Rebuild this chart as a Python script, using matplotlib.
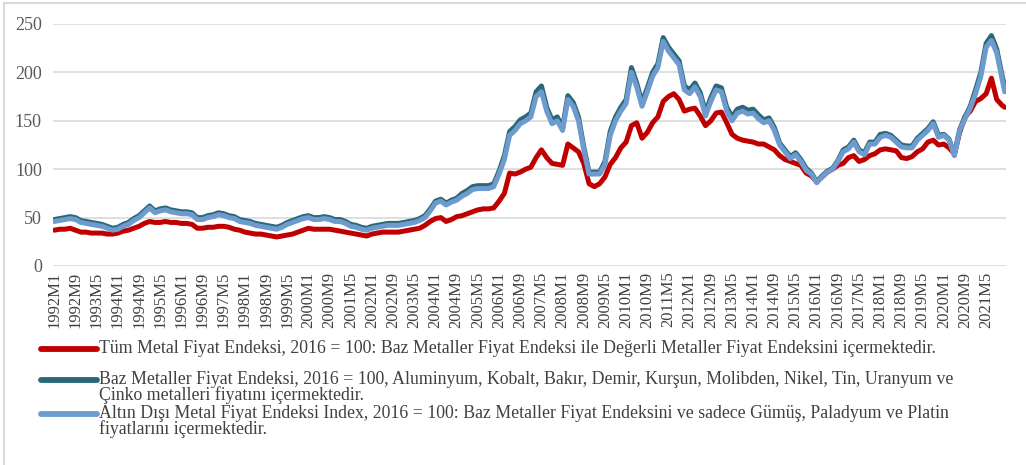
import numpy as np
import matplotlib
matplotlib.use("Agg")
import matplotlib.pyplot as plt
from matplotlib.lines import Line2D
from matplotlib.patches import Rectangle

# bi-monthly readings (M1, M3, M5, M7, M9, M11 of each year), 1992-2021, plus 2021M12
tum_metal = [
    37, 38, 38, 39, 37, 35,
    35, 34, 34, 34, 33, 33,
    34, 36, 37, 39, 41, 44,
    46, 45, 45, 46, 45, 45,
    44, 44, 43, 39, 39, 40,
    40, 41, 41, 40, 38, 37,
    35, 34, 33, 33, 32, 31,
    30, 31, 32, 33, 35, 37,
    39, 38, 38, 38, 38, 37,
    36, 35, 34, 33, 32, 31,
    33, 34, 35, 35, 35, 35,
    36, 37, 38, 39, 42, 46,
    49, 50, 46, 48, 51, 52,
    54, 56, 58, 59, 59, 60,
    67, 75, 96, 95, 97, 100,
    102, 112, 120, 112, 106, 105,
    104, 126, 122, 118, 106, 85,
    82, 85, 92, 105, 112, 122,
    128, 145, 148, 132, 138, 148,
    154, 170, 175, 178, 172, 160,
    162, 163, 155, 145, 150, 158,
    159, 148, 136, 132, 130, 129,
    128, 126, 126, 123, 120, 114,
    110, 108, 106, 104, 96, 93,
    87, 92, 97, 100, 104, 106,
    112, 114, 108, 110, 114, 116,
    120, 121, 120, 119, 112, 111,
    113, 118, 121, 128, 130, 125,
    126, 122, 116, 138, 154, 160,
    170, 173, 178, 194, 172, 166,
    164,
]

baz_metal = [
    48, 49, 50, 51, 50, 47,
    46, 45, 44, 43, 41, 39,
    40, 43, 45, 49, 52, 57,
    62, 57, 59, 60, 58, 57,
    56, 56, 55, 50, 50, 52,
    53, 55, 54, 52, 51, 48,
    47, 46, 44, 43, 42, 41,
    40, 42, 45, 47, 49, 51,
    52, 50, 50, 51, 50, 48,
    48, 46, 43, 42, 40, 39,
    41, 42, 43, 44, 44, 44,
    45, 46, 47, 49, 52, 59,
    67, 69, 65, 68, 70, 75,
    78, 82, 83, 83, 83, 85,
    98, 114, 139, 144, 151, 154,
    158, 180, 186, 164, 151, 154,
    143, 176, 169, 154, 123, 97,
    97, 97, 108, 139, 154, 164,
    172, 205, 189, 169, 184, 200,
    209, 236, 226, 219, 212, 186,
    182, 189, 179, 159, 174, 186,
    184, 164, 154, 162, 164, 161,
    162, 156, 151, 153, 143, 127,
    120, 113, 117, 110, 101, 96,
    87, 93, 98, 101, 109, 120,
    123, 130, 120, 117, 128, 128,
    136, 137, 135, 130, 125, 124,
    124, 132, 137, 142, 149, 135,
    136, 131, 115, 141, 154, 165,
    182, 200, 230, 238, 224, 197,
    185,
]

altin_disi = [
    46, 47, 48, 49, 48, 45,
    44, 43, 42, 41, 39, 37,
    38, 41, 43, 47, 50, 55,
    60, 55, 57, 58, 56, 55,
    54, 54, 53, 48, 48, 50,
    51, 53, 52, 50, 49, 46,
    45, 44, 42, 41, 40, 39,
    38, 40, 43, 45, 47, 49,
    50, 48, 48, 49, 48, 46,
    46, 44, 41, 40, 38, 37,
    39, 40, 41, 42, 42, 42,
    43, 44, 45, 47, 50, 57,
    65, 67, 63, 66, 68, 72,
    75, 79, 80, 80, 80, 82,
    95, 110, 135, 140, 147, 150,
    154, 175, 180, 160, 147, 150,
    140, 172, 165, 150, 120, 95,
    95, 95, 105, 135, 150, 160,
    168, 200, 185, 165, 180, 196,
    205, 232, 222, 215, 208, 182,
    178, 185, 175, 155, 170, 182,
    180, 160, 150, 158, 160, 157,
    158, 152, 148, 150, 140, 125,
    118, 111, 115, 108, 99, 95,
    86, 92, 97, 100, 108, 118,
    121, 128, 118, 115, 126, 126,
    133, 135, 133, 128, 123, 122,
    122, 130, 135, 140, 147, 133,
    135, 130, 114, 140, 152, 163,
    178, 196, 226, 233, 220, 193,
    180,
]

# month index of each reading (0 = 1992M1)
ay = list(range(0, 360, 2)) + [359]

etiketler = []
for i in range(0, 353, 8):
    etiketler.append("%dM%d" % (1992 + i // 12, i % 12 + 1))
etiket_yer = list(range(0, 353, 8))

leg_text = [
    "Tüm Metal Fiyat Endeksi, 2016 = 100: Baz Metaller Fiyat Endeksi ile Değerli Metaller Fiyat Endeksini içermektedir.",
    "Baz Metaller Fiyat Endeksi, 2016 = 100, Aluminyum, Kobalt, Bakır, Demir, Kurşun, Molibden, Nikel, Tin, Uranyum ve\nÇinko metalleri fiyatını içermektedir.",
    "Altın Dışı Metal Fiyat Endeksi Index, 2016 = 100: Baz Metaller Fiyat Endeksini ve sadece Gümüş, Paladyum ve Platin\nfiyatlarını içermektedir.",
]
renkler = ["#C00000", "#2A6778", "#6E9BCE"]

plt.rcParams["font.family"] = ["Liberation Serif", "DejaVu Serif"]

fig = plt.figure(figsize=(10.26, 4.65), dpi=100)
W, H = 1026.0, 465.0
ax = fig.add_axes([53 / W, 1 - 266 / H, (1006 - 53) / W, (266 - 24) / H])

ax.plot(ay, tum_metal, color=renkler[0], lw=3.6, solid_capstyle="round")
ax.plot(ay, baz_metal, color=renkler[1], lw=3.6, solid_capstyle="round")
ax.plot(ay, altin_disi, color=renkler[2], lw=3.6, solid_capstyle="round")

ax.set_xlim(-0.5, 359.5)
ax.set_ylim(0, 250)
ax.set_yticks([0, 50, 100, 150, 200, 250])
ax.yaxis.grid(True, color="#D9D9D9", lw=1.2)
ax.set_axisbelow(True)
for s in ax.spines.values():
    s.set_visible(False)
ax.set_xticks(etiket_yer)
ax.set_xticklabels(etiketler, rotation=90, fontsize=12, color="#404040")
ax.tick_params(axis="both", length=0)
ax.tick_params(axis="x", pad=4)
ax.tick_params(axis="y", labelsize=13, labelcolor="#595959", pad=8)

# legend below the plot
rows = [349, 380, 414]
for k in range(3):
    yy = 1 - rows[k] / H
    fig.add_artist(Line2D([41 / W, 97 / W], [yy, yy], color=renkler[k], lw=4.2,
                          solid_capstyle="round", transform=fig.transFigure))
    fig.text(99 / W, yy + 9 / H, leg_text[k], fontsize=12.8, color="#404040",
             va="top", ha="left", linespacing=0.88)

# outer frame
fig.add_artist(Rectangle((4 / W, -0.1), 1.2, 1.1 - 3 / H, transform=fig.transFigure,
                         fill=False, edgecolor="#D9D9D9", lw=1.5))

fig.savefig("out.png", dpi=100)
